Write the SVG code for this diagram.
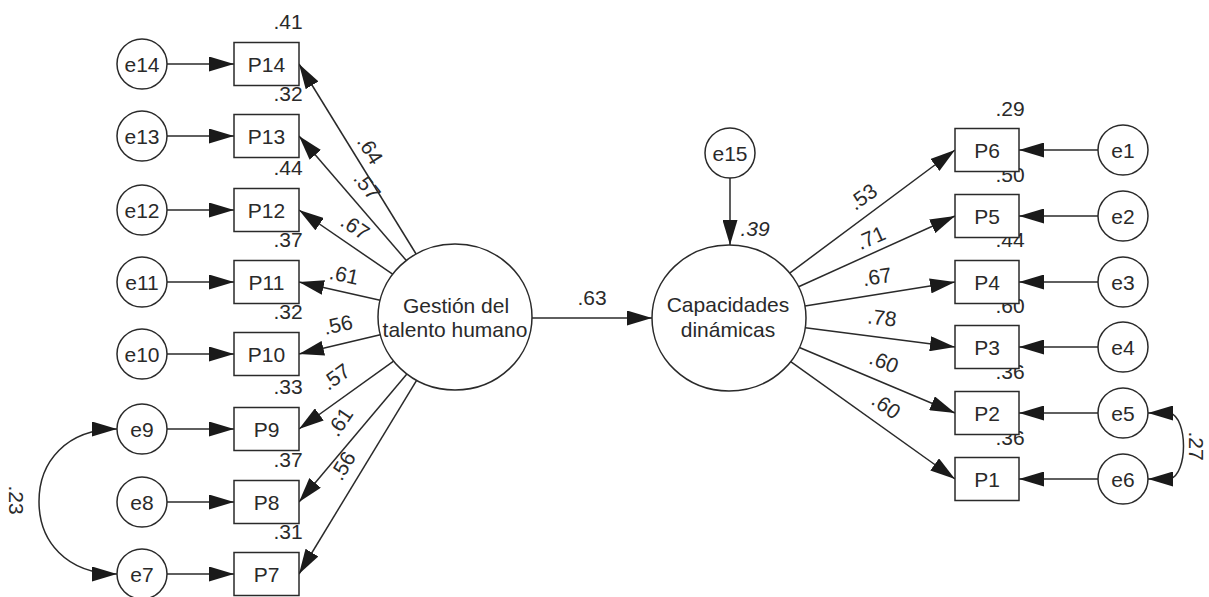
<svg xmlns="http://www.w3.org/2000/svg" width="1209" height="597" viewBox="0 0 1209 597">
<defs>
<marker id="ah" markerUnits="userSpaceOnUse" markerWidth="25" markerHeight="15" refX="25" refY="7.5" orient="auto-start-reverse" viewBox="0 0 25 15">
<path d="M0,0 L25,7.5 L0,15 z" fill="#1a1a1a"/>
</marker>
<style>
.ln{stroke:#2a2a2a;stroke-width:1.5;fill:none;marker-end:url(#ah)}
.cv{stroke:#2a2a2a;stroke-width:1.5;fill:none;marker-start:url(#ah);marker-end:url(#ah)}
.nd{stroke:#2a2a2a;stroke-width:1.5;fill:#fff}
text{font-family:"Liberation Sans",Arial,sans-serif;font-size:21px;fill:#2a2a2a;text-anchor:middle}
</style>
</defs>
<rect width="1209" height="597" fill="#fff"/>
<g id="connectors">
<line class="ln" x1="167" y1="64" x2="234" y2="64"/>
<line class="ln" x1="167" y1="136" x2="234" y2="136"/>
<line class="ln" x1="167" y1="210" x2="234" y2="210"/>
<line class="ln" x1="167" y1="282" x2="234" y2="282"/>
<line class="ln" x1="167" y1="354" x2="234" y2="354"/>
<line class="ln" x1="167" y1="429" x2="234" y2="429"/>
<line class="ln" x1="167" y1="502" x2="234" y2="502"/>
<line class="ln" x1="167" y1="574" x2="234" y2="574"/>
<line class="ln" x1="416.1" y1="254" x2="299" y2="64"/>
<line class="ln" x1="406.3" y1="260.5" x2="299" y2="136"/>
<line class="ln" x1="392.6" y1="274.2" x2="299" y2="210"/>
<line class="ln" x1="380.1" y1="300.2" x2="299" y2="282"/>
<line class="ln" x1="380.3" y1="334.7" x2="299" y2="354"/>
<line class="ln" x1="393.6" y1="361.1" x2="299" y2="429"/>
<line class="ln" x1="406.9" y1="374" x2="299" y2="502"/>
<line class="ln" x1="416.6" y1="380.3" x2="299" y2="574"/>
<line class="ln" x1="532" y1="318" x2="652" y2="318"/>
<line class="ln" x1="730" y1="178" x2="730" y2="245"/>
<line class="ln" x1="789.7" y1="273.1" x2="955" y2="150"/>
<line class="ln" x1="798.6" y1="286.7" x2="955" y2="216"/>
<line class="ln" x1="805" y1="306" x2="955" y2="282"/>
<line class="ln" x1="805.3" y1="327.7" x2="955" y2="347"/>
<line class="ln" x1="799.4" y1="347.5" x2="955" y2="413"/>
<line class="ln" x1="790.7" y1="361.7" x2="955" y2="479"/>
<line class="ln" x1="1098" y1="150" x2="1019" y2="150"/>
<line class="ln" x1="1098" y1="216" x2="1019" y2="216"/>
<line class="ln" x1="1098" y1="282" x2="1019" y2="282"/>
<line class="ln" x1="1098" y1="347" x2="1019" y2="347"/>
<line class="ln" x1="1098" y1="413" x2="1019" y2="413"/>
<line class="ln" x1="1098" y1="479" x2="1019" y2="479"/>
<path class="cv" d="M117,429 C66,429 39,462 39,501.5 C39,541 66,574 117,574"/>
<path class="cv" d="M1148,413 L1170,413 C1188,418 1188,474 1170,479 L1148,479"/>
</g>
<g id="labels">
<g transform="translate(370,150) rotate(58)"><text x="0" y="7">.64</text></g>
<g transform="translate(367,186) rotate(52)"><text x="0" y="7">.57</text></g>
<g transform="translate(355,227) rotate(34)"><text x="0" y="7">.67</text></g>
<g transform="translate(344,275) rotate(12)"><text x="0" y="7">.61</text></g>
<g transform="translate(338,325) rotate(-13)"><text x="0" y="7">.56</text></g>
<g transform="translate(336,377) rotate(-36)"><text x="0" y="7">.57</text></g>
<g transform="translate(340,422) rotate(-56)"><text x="0" y="7">.61</text></g>
<g transform="translate(343,466) rotate(-59)"><text x="0" y="7">.56</text></g>
<text x="592" y="305">.63</text>
<text x="755" y="236" font-style="italic">.39</text>
<g transform="translate(863,197) rotate(-36)"><text x="0" y="7">.53</text></g>
<g transform="translate(871,238) rotate(-24)"><text x="0" y="7">.71</text></g>
<g transform="translate(877,277) rotate(-9)"><text x="0" y="7">.67</text></g>
<g transform="translate(882,318) rotate(7)"><text x="0" y="7">.78</text></g>
<g transform="translate(884,362) rotate(22)"><text x="0" y="7">.60</text></g>
<g transform="translate(886,406) rotate(35)"><text x="0" y="7">.60</text></g>
<g transform="translate(16,500) rotate(90)"><text x="0" y="7">.23</text></g>
<g transform="translate(1196,446) rotate(90)"><text x="0" y="7">.27</text></g>
<text x="288" y="29">.41</text>
<text x="288" y="101">.32</text>
<text x="288" y="175">.44</text>
<text x="288" y="247">.37</text>
<text x="288" y="319">.32</text>
<text x="288" y="394">.33</text>
<text x="288" y="467">.37</text>
<text x="288" y="539">.31</text>
<text x="1010" y="116">.29</text>
<text x="1010" y="182">.50</text>
<text x="1010" y="247">.44</text>
<text x="1010" y="313">.60</text>
<text x="1010" y="379">.36</text>
<text x="1010" y="445">.36</text>
</g>
<g id="e14"><circle class="nd" cx="142" cy="64" r="25"/><text x="142" y="71.5">e14</text></g>
<g id="e13"><circle class="nd" cx="142" cy="136" r="25"/><text x="142" y="143.5">e13</text></g>
<g id="e12"><circle class="nd" cx="142" cy="210" r="25"/><text x="142" y="217.5">e12</text></g>
<g id="e11"><circle class="nd" cx="142" cy="282" r="25"/><text x="142" y="289.5">e11</text></g>
<g id="e10"><circle class="nd" cx="142" cy="354" r="25"/><text x="142" y="361.5">e10</text></g>
<g id="e9"><circle class="nd" cx="142" cy="429" r="25"/><text x="142" y="436.5">e9</text></g>
<g id="e8"><circle class="nd" cx="142" cy="502" r="25"/><text x="142" y="509.5">e8</text></g>
<g id="e7"><circle class="nd" cx="142" cy="574" r="25"/><text x="142" y="581.5">e7</text></g>
<g id="P14"><rect class="nd" x="234" y="42.5" width="65" height="43"/><text x="266.5" y="71.5">P14</text></g>
<g id="P13"><rect class="nd" x="234" y="114.5" width="65" height="43"/><text x="266.5" y="143.5">P13</text></g>
<g id="P12"><rect class="nd" x="234" y="188.5" width="65" height="43"/><text x="266.5" y="217.5">P12</text></g>
<g id="P11"><rect class="nd" x="234" y="260.5" width="65" height="43"/><text x="266.5" y="289.5">P11</text></g>
<g id="P10"><rect class="nd" x="234" y="332.5" width="65" height="43"/><text x="266.5" y="361.5">P10</text></g>
<g id="P9"><rect class="nd" x="234" y="407.5" width="65" height="43"/><text x="266.5" y="436.5">P9</text></g>
<g id="P8"><rect class="nd" x="234" y="480.5" width="65" height="43"/><text x="266.5" y="509.5">P8</text></g>
<g id="P7"><rect class="nd" x="234" y="552.5" width="65" height="43"/><text x="266.5" y="581.5">P7</text></g>
<g id="gestion"><ellipse class="nd" cx="455" cy="317" rx="77" ry="73"/><text x="456" y="313">Gestión del</text><text x="455" y="337">talento humano</text></g>
<g id="capacidades"><ellipse class="nd" cx="729" cy="318" rx="77" ry="73"/><text x="728" y="312">Capacidades</text><text x="728" y="337">dinámicas</text></g>
<g id="e15"><circle class="nd" cx="730" cy="153" r="25"/><text x="730" y="160.5">e15</text></g>
<g id="P6"><rect class="nd" x="955" y="128.5" width="64" height="43"/><text x="987" y="157.5">P6</text></g>
<g id="P5"><rect class="nd" x="955" y="194.5" width="64" height="43"/><text x="987" y="223.5">P5</text></g>
<g id="P4"><rect class="nd" x="955" y="260.5" width="64" height="43"/><text x="987" y="289.5">P4</text></g>
<g id="P3"><rect class="nd" x="955" y="325.5" width="64" height="43"/><text x="987" y="354.5">P3</text></g>
<g id="P2"><rect class="nd" x="955" y="391.5" width="64" height="43"/><text x="987" y="420.5">P2</text></g>
<g id="P1"><rect class="nd" x="955" y="457.5" width="64" height="43"/><text x="987" y="486.5">P1</text></g>
<g id="e1"><circle class="nd" cx="1123" cy="150" r="25"/><text x="1123" y="157.5">e1</text></g>
<g id="e2"><circle class="nd" cx="1123" cy="216" r="25"/><text x="1123" y="223.5">e2</text></g>
<g id="e3"><circle class="nd" cx="1123" cy="282" r="25"/><text x="1123" y="289.5">e3</text></g>
<g id="e4"><circle class="nd" cx="1123" cy="347" r="25"/><text x="1123" y="354.5">e4</text></g>
<g id="e5"><circle class="nd" cx="1123" cy="413" r="25"/><text x="1123" y="420.5">e5</text></g>
<g id="e6"><circle class="nd" cx="1123" cy="479" r="25"/><text x="1123" y="486.5">e6</text></g>
</svg>
